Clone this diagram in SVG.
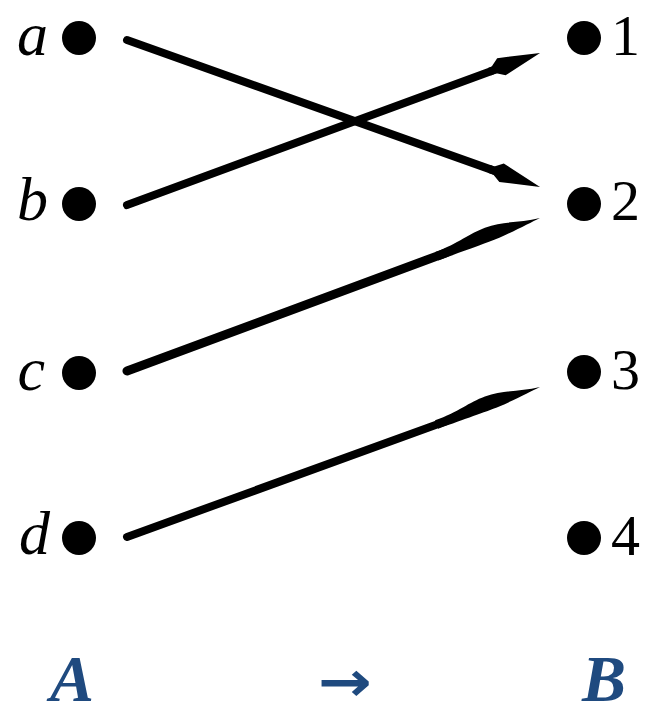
<svg xmlns="http://www.w3.org/2000/svg" width="652" height="715" viewBox="0 0 652 715">
<style>
.lbl{font-family:"Liberation Serif","Times New Roman",serif;font-style:italic;font-size:62px;fill:#000}
.num{font-family:"Liberation Serif","Times New Roman",serif;font-size:58px;fill:#000}
.set{font-family:"Liberation Serif","Times New Roman",serif;font-style:italic;font-weight:bold;font-size:66px;fill:#1f4a7f}
.arr{font-family:"DejaVu Sans","Liberation Sans",sans-serif;font-weight:bold;font-size:56px;fill:#1f4a7f}
.dot{fill:#000}
.ln{stroke:#000;stroke-linecap:round;fill:none}
</style>
<defs>
<path id="h1" d="M0,0 L-42,-10 L-50,-4 L-54,-4 L-54,4 L-48,4 L-40,9 Z" fill="#000"/>
<path id="h2" d="M0,0 C-20,-2 -35,-10 -55,-10 C-72,-10 -85,-4.5 -110,-4.5 L-110,4.5 C-80,4.5 -62,5 -45,4.5 C-25,3 -10,1 0,0 Z" fill="#000"/>
</defs>
<g id="connectors">
<g transform="translate(127,40) rotate(19.59)"><line class="ln" x1="0" y1="0" x2="400" y2="0" stroke-width="8"/><use href="#h1" x="438.4" y="0"/></g>
<g transform="translate(127,205) rotate(-20.2)"><line class="ln" x1="0" y1="0" x2="400" y2="0" stroke-width="8"/><use href="#h1" x="440.1" y="0"/></g>
<g transform="translate(127,371) rotate(-20.33)"><line class="ln" x1="0" y1="0" x2="340" y2="0" stroke-width="9"/><use href="#h2" x="440.4" y="0"/></g>
<g transform="translate(127,537) rotate(-19.96)"><line class="ln" x1="0" y1="0" x2="340" y2="0" stroke-width="8"/><use href="#h2" x="439.4" y="0"/></g>
</g>
<g id="node-a"><circle class="dot" cx="79" cy="38" r="17"/><text class="lbl" x="48" y="55" text-anchor="end">a</text></g>
<g id="node-b"><circle class="dot" cx="79" cy="204" r="17"/><text class="lbl" x="48" y="220" text-anchor="end">b</text></g>
<g id="node-c"><circle class="dot" cx="79" cy="373" r="17"/><text class="lbl" x="45" y="390" text-anchor="end">c</text></g>
<g id="node-d"><circle class="dot" cx="79" cy="538" r="17"/><text class="lbl" x="50" y="554" text-anchor="end">d</text></g>
<g id="node-1"><circle class="dot" cx="584" cy="38" r="17"/><text class="num" x="611" y="55">1</text></g>
<g id="node-2"><circle class="dot" cx="584" cy="204" r="17"/><text class="num" x="611" y="220">2</text></g>
<g id="node-3"><circle class="dot" cx="584" cy="372" r="17"/><text class="num" x="611" y="389">3</text></g>
<g id="node-4"><circle class="dot" cx="584" cy="538" r="17"/><text class="num" x="611" y="555">4</text></g>
<g id="label-A"><text class="set" x="72" y="701" text-anchor="middle">A</text></g>
<g id="label-arrow"><text class="arr" x="318" y="701" textLength="54" lengthAdjust="spacingAndGlyphs">→</text></g>
<g id="label-B"><text class="set" x="604" y="701" text-anchor="middle">B</text></g>
</svg>
